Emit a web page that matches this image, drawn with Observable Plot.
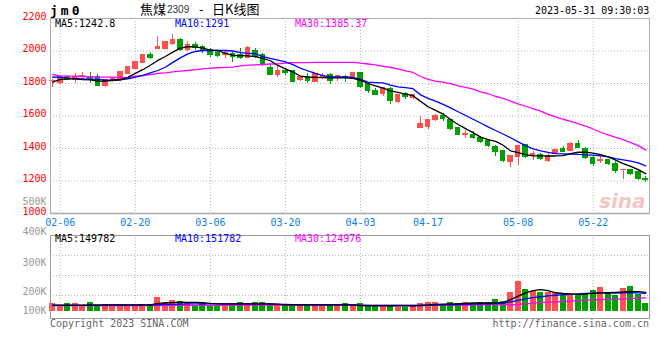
<!DOCTYPE html>
<html><head><meta charset="utf-8">
<script src="https://cdn.jsdelivr.net/npm/d3@7"></script>
<script src="https://cdn.jsdelivr.net/npm/@observablehq/plot@0.6"></script>
<style>
body{margin:0;background:#fff;}
#wrap{position:relative;width:660px;height:360px;overflow:hidden;font-family:"DejaVu Sans Mono",monospace;}
#wrap svg{position:absolute;left:0;top:0;}
.t{position:absolute;white-space:pre;font-size:10px;line-height:10px;font-family:"DejaVu Sans Mono",monospace;}
</style></head><body><div id="wrap"></div>
<script>
// ---- data (index 0 = 02-03, index 79 = 05-31) ----
const open  = [1813,1805,1843,1823,1839,1839,1843,1784,1819,1825,1860,1890,1927,1976,2015,2013,2044,2066,2009,2040,2024,2009,1989,1976,1983,1976,1956,1999,1975,1895,1850,1878,1876,1819,1840,1809,1840,1850,1842,1838,1829,1864,1799,1754,1737,1764,1684,1737,1708,1526,1532,1573,1598,1573,1526,1483,1485,1467,1446,1410,1383,1317,1348,1420,1358,1358,1324,1365,1395,1385,1426,1399,1344,1322,1328,1307,1266,1266,1256,1215];
const high  = [1826,1842,1849,1860,1866,1870,1855,1822,1835,1874,1903,1935,1980,1992,2089,2060,2101,2080,2058,2054,2034,2017,2003,2003,1993,2013,2026,2013,1983,1911,1905,1885,1880,1845,1860,1862,1864,1860,1850,1850,1868,1870,1809,1768,1778,1774,1735,1747,1730,1594,1580,1610,1614,1580,1530,1512,1502,1471,1457,1416,1385,1358,1420,1420,1379,1369,1369,1391,1410,1434,1451,1406,1348,1352,1334,1317,1272,1272,1266,1225];
const low   = [1775,1795,1818,1798,1829,1798,1782,1778,1808,1822,1855,1885,1922,1946,2013,2008,2034,2000,1997,2005,1983,1958,1962,1952,1931,1948,1952,1952,1907,1848,1840,1852,1807,1810,1799,1805,1823,1795,1815,1809,1825,1768,1741,1727,1721,1672,1680,1700,1700,1522,1518,1569,1569,1512,1478,1461,1455,1430,1405,1352,1311,1281,1297,1338,1328,1328,1311,1363,1373,1379,1399,1332,1291,1307,1297,1246,1211,1236,1205,1188];
const close = [1818,1839,1823,1839,1849,1827,1784,1819,1829,1870,1900,1931,1978,1956,2022,2054,2068,2006,2034,2017,1999,1978,1972,1989,1962,1960,2021,1962,1911,1850,1874,1864,1809,1840,1815,1860,1846,1815,1846,1834,1864,1778,1754,1731,1774,1692,1729,1716,1727,1549,1573,1600,1580,1518,1481,1487,1467,1440,1414,1379,1322,1354,1416,1348,1364,1338,1352,1389,1379,1426,1406,1344,1303,1328,1307,1262,1270,1246,1215,1205];
const ma5   = [1809,1826,1829,1829,1824,1822,1815,1815,1820,1823,1838,1862,1885,1912,1942,1966,1993,2018,2027,2026,2018,2005,2003,1986,1973,1972,1970,1965,1955,1940,1911,1890,1870,1846,1840,1838,1836,1835,1835,1834,1832,1820,1800,1786,1772,1755,1745,1735,1725,1690,1657,1635,1612,1578,1548,1522,1498,1470,1455,1444,1420,1385,1375,1362,1355,1354,1354,1354,1356,1368,1377,1378,1372,1362,1348,1328,1307,1290,1270,1245];
const ma10  = [1840,1838,1833,1830,1828,1825,1825,1820,1821,1823,1829,1839,1850,1866,1880,1900,1930,1958,1982,1997,2003,2003,2003,2003,2000,1990,1986,1983,1966,1954,1944,1933,1916,1894,1877,1863,1849,1840,1840,1840,1838,1825,1808,1806,1804,1790,1779,1774,1768,1730,1708,1692,1672,1650,1626,1603,1580,1557,1533,1511,1489,1466,1441,1418,1398,1386,1376,1368,1367,1366,1364,1361,1359,1355,1348,1338,1330,1322,1312,1293];
const ma30  = [1856,1845,1845,1845,1842,1840,1839,1839,1839,1837,1835,1845,1849,1855,1862,1866,1872,1876,1880,1886,1890,1895,1897,1899,1901,1908,1913,1915,1917,1920,1921,1925,1928,1928,1929,1930,1930,1930,1930,1930,1930,1925,1920,1915,1906,1900,1890,1878,1868,1843,1825,1815,1808,1799,1786,1776,1765,1749,1737,1720,1708,1692,1675,1660,1645,1630,1610,1595,1580,1567,1553,1538,1520,1500,1484,1468,1455,1436,1418,1390];
const volume = [141,129,141,141,129,146,129,134,134,134,129,124,134,134,173,146,155,150,138,129,146,129,129,134,134,146,138,146,146,133,134,129,129,129,129,129,129,129,129,138,129,141,129,129,124,124,120,117,124,138,145,145,134,145,138,145,141,145,145,161,150,199,236,208,202,199,199,191,182,182,187,194,205,216,194,182,211,219,187,141].map(v => v * 1000);
const volMa5  = [130,130,130,130,130,131,131,132,132,132,132,132,132,132,140,142,144,146,145,145,144,140,138,138,138,138,138,138,138,138,135,132,132,132,132,132,132,132,132,132,132,128,127,127,127,127,127,127,127,130,132,135,136,137,138,140,142,142,142,143,145,160,178,195,205,208,205,196,192,190,188,190,193,196,196,198,200,202,201,198].map(v => v * 1000);
const volMa10 = [131,131,131,131,131,131,131,131,131,131,131,131,131,131,133,134,135,136,137,137,137,137,137,137,137,137,137,137,137,137,136,135,134,133,133,133,132,132,132,132,132,131,130,130,130,129,129,129,129,129,130,131,132,133,134,135,136,137,138,139,140,148,156,164,170,175,180,183,186,188,190,192,194,195,195,194,195,196,195,193].map(v => v * 1000);
const volMa30 = [129,129,129,129,129,129,129,129,129,129,129,129,129,129,129,130,130,130,130,130,130,130,130,130,130,131,131,131,131,131,131,131,131,131,131,131,131,131,131,131,131,130,130,130,130,130,130,130,130,130,130,130,130,131,131,131,131,131,132,132,132,133,135,138,141,144,146,148,150,152,155,157,159,160,161,162,164,166,167,169].map(v => v * 1000);
const tickIndex  = [1, 11, 21, 31, 41, 50, 62, 72];
const tickLabels = ["02-06","02-20","03-06","03-20","04-03","04-17","05-08","05-22"];
const priceTicks = [1000, 1200, 1400, 1600, 1800, 2000, 2200];
const volTicks   = [100000, 200000, 300000, 400000, 500000];
const volTickLabels = ["100K","200K","300K","400K","500K"];
const volBase = 100000;

// ---- build ----
const UP = "#ff5050", DOWN = "#00a000";
const rows = open.map((o, i) => ({i, open: o, high: high[i], low: low[i], close: close[i], vol: volume[i], color: close[i] >= o ? UP : DOWN}));
const ser = arr => arr.map((v, i) => ({i, v}));
const W = 660, H = 360;
const X = {type: "linear", domain: [-0.3, 79.5], range: [50, 649], axis: null};
const FONT = "DejaVu Sans Mono, monospace";
const grid = {stroke: "#b4b4b4", strokeOpacity: 1, strokeDasharray: "1,2"};
const lab = Object.fromEntries(tickIndex.map((t, k) => [t, tickLabels[k]]));
const pl = Object.fromEntries(priceTicks.map(p => [p, String(p)]));
const vl = Object.fromEntries(volTicks.map((v, k) => [v, volTickLabels[k]]));

const main = Plot.plot({
  width: W, height: H, marginLeft: 50, marginRight: 11, marginTop: 18, marginBottom: 147,
  style: {background: "transparent", fontFamily: FONT, fontSize: "10px", overflow: "visible"},
  x: X, y: {domain: [1000, 2200], axis: null}, color: {type: "identity"},
  marks: [
    Plot.ruleY(priceTicks.slice(1, -1), grid),
    Plot.ruleX(tickIndex, grid),
    Plot.axisY(priceTicks, {anchor: "left", label: null, tickSize: 0, tickPadding: 4, dy: -2, fill: "#ff0000", tickFormat: d => pl[d], fontSize: 10}),
    Plot.axisX(tickIndex, {anchor: "bottom", label: null, tickSize: 0, tickPadding: 5, fill: "#0a7fe0", tickFormat: d => lab[d], fontSize: 10}),
    Plot.text(["sina"], {frameAnchor: "bottom-right", dx: -4, dy: -6, fill: "#f2c6c6", fontSize: 20, fontWeight: "bold", fontStyle: "italic", fontFamily: "DejaVu Sans"}),
    Plot.ruleX(rows, {x: "i", y1: "low", y2: "high", stroke: "color", strokeWidth: 1, shapeRendering: "crispEdges"}),
    Plot.rect(rows, {x1: d => d.i - 0.37, x2: d => d.i + 0.37, y1: "open", y2: "close", fill: "color", insetTop: -0.5, insetBottom: -0.5, shapeRendering: "crispEdges"}),
    Plot.line(ser(ma30), {x: "i", y: "v", stroke: "#ff00ff", strokeWidth: 1.3}),
    Plot.line(ser(ma10), {x: "i", y: "v", stroke: "#0000ff", strokeWidth: 1.3}),
    Plot.line(ser(ma5), {x: "i", y: "v", stroke: "#000000", strokeWidth: 1.3}),
    Plot.ruleX([-0.3], {stroke: "#999"}),
    Plot.ruleY([1000], {stroke: "#999", strokeWidth: 1.5}),
    Plot.frame({stroke: "#aaa"})
  ]
});

const volGridPlot = Plot.plot({
  width: W, height: H, marginLeft: 50, marginRight: 11, marginTop: 235, marginBottom: 45,
  style: {background: "transparent"},
  x: X, y: {domain: [0, 4], axis: null},
  marks: [
    Plot.ruleY([1, 2, 3], grid),
    Plot.ruleX(tickIndex, grid)
  ]
});

const vol = Plot.plot({
  width: W, height: H, marginLeft: 50, marginRight: 11, marginTop: 235, marginBottom: 42,
  style: {background: "transparent", fontFamily: FONT, fontSize: "10px", overflow: "visible"},
  x: X, y: {type: "linear", domain: volTicks, range: [310.5, 291.5, 262, 231.5, 201], axis: null},
  color: {type: "identity"},
  marks: [
    Plot.axisY(volTicks, {anchor: "left", label: null, tickSize: 0, tickPadding: 4, fill: "#999999", tickFormat: d => vl[d], fontSize: 10}),
    Plot.rect(rows, {x1: d => d.i - 0.4, x2: d => d.i + 0.4, y1: () => volBase, y2: "vol", fill: "color", shapeRendering: "crispEdges"}),
    Plot.line(ser(volMa30), {x: "i", y: "v", stroke: "#ff00ff", strokeWidth: 1.3}),
    Plot.line(ser(volMa10), {x: "i", y: "v", stroke: "#0000ff", strokeWidth: 1.3}),
    Plot.line(ser(volMa5), {x: "i", y: "v", stroke: "#000000", strokeWidth: 1.3}),
    Plot.frame({stroke: "#999"})
  ]
});

const wrap = document.getElementById("wrap");
wrap.append(volGridPlot, vol, main);

function txt(s, left, top, style) {
  const d = document.createElement("div");
  d.className = "t"; d.textContent = s;
  d.style.left = left + "px"; d.style.top = top + "px";
  Object.assign(d.style, style || {});
  wrap.append(d);
  return d;
}
txt("jm0", 50, 4, {fontSize: "13px", lineHeight: "13px", fontWeight: "bold", letterSpacing: "3px", color: "#000"});
txt("焦煤", 140, 2, {fontSize: "13px", lineHeight: "14px", fontFamily: "Noto Sans CJK SC", color: "#000"});
txt("2309", 167, 5, {fontSize: "10px", lineHeight: "10px", fontFamily: "Liberation Sans", color: "#333"});
txt("-", 199, 2, {fontSize: "13px", lineHeight: "14px", fontFamily: "Noto Sans CJK SC", color: "#000"});
txt("日K线图", 212, 2, {fontSize: "13px", lineHeight: "14px", fontFamily: "Noto Sans CJK SC", color: "#000"});
txt("2023-05-31 09:30:03", 535, 6, {color: "#000"});
txt("MA5:1242.8", 55, 19, {color: "#000"});
txt("MA10:1291", 175, 19, {color: "#0000ff"});
txt("MA30:1385.37", 295, 19, {color: "#ff00ff"});
txt("MA5:149782", 55, 234, {color: "#000"});
txt("MA10:151782", 175, 234, {color: "#0000ff"});
txt("MA30:124976", 295, 234, {color: "#ff00ff"});
txt("Copyright 2023 SINA.COM", 50, 319, {color: "#666"});
const u = txt("http://finance.sina.com.cn", 0, 319, {color: "#666"});
u.style.left = ""; u.style.right = "11px";
</script></body></html>
